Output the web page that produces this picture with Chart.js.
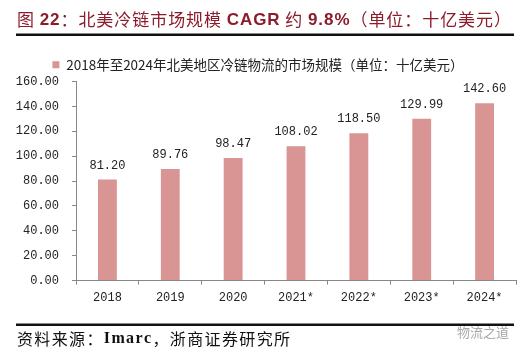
<!DOCTYPE html>
<html><head><meta charset="utf-8">
<script src="https://cdn.jsdelivr.net/npm/chart.js@4.4.0/dist/chart.umd.min.js"></script>
<style>
html,body{margin:0;padding:0;background:#fff;}
body{width:531px;height:357px;overflow:hidden;}
#box{position:absolute;left:0;top:0;width:531px;height:357px;}
</style></head>
<body>
<div id="box"><canvas id="c"></canvas></div>
<script>
const categories = ["2018","2019","2020","2021*","2022*","2023*","2024*"];
const marketSize = [81.20, 89.76, 98.47, 108.02, 118.50, 129.99, 142.60];
const seriesLabel = "2018年至2024年北美地区冷链物流的市场规模（单位：十亿美元）";
const yTicks = [0,20,40,60,80,100,120,140,160];
const titleParts = [["图 ",0],["22",1],["：北美冷链市场规模 ",0],["CAGR",1],[" 约 ",0],["9.8%",1],["（单位：十亿美元）",0]];
const sourceParts = [["资料来源：",0],["Imarc",1],["，浙商证券研究所",0]];
const watermark = "物流之道";

function drawSpaced(ctx, parts, x, y, target, fontN, fontB){
  const chars = [];
  parts.forEach(([t,b])=>{ for (const ch of t) chars.push([ch,b]); });
  let natural = 0;
  chars.forEach(([ch,b])=>{ ctx.font = b?fontB:fontN; natural += ctx.measureText(ch).width; });
  const extra = target ? (target - natural)/(chars.length-1) : 0;
  let cx = x;
  chars.forEach(([ch,b])=>{ ctx.font = b?fontB:fontN; ctx.fillText(ch, cx, y); cx += ctx.measureText(ch).width + extra; });
}

const frame = {
  id:'frame',
  afterDraw(chart){
    const ctx = chart.ctx;
    ctx.save();
    ctx.textBaseline = 'middle';
    ctx.textAlign = 'left';
    ctx.fillStyle = '#8c1c2c';
    drawSpaced(ctx, titleParts, 17, 20, 494, "17px 'Noto Sans CJK SC'", "bold 17px 'Liberation Sans', 'Noto Sans CJK SC'");
    ctx.fillStyle = '#111';
    ctx.fillRect(16, 33.5, 498, 2.5);
    ctx.fillRect(16, 323.5, 498, 2.5);
    drawSpaced(ctx, sourceParts, 17, 339, 273, "16px 'Noto Sans CJK SC'", "bold 16px 'Liberation Serif', serif");
    ctx.fillStyle = '#a8a8a8';
    ctx.font = "13px 'Noto Sans CJK SC'";
    ctx.fillText(watermark, 457, 332);
    ctx.restore();
  }
};

const tickFont = {family:"Liberation Mono, monospace", size:12};
const valueLabels = {
  id:'valueLabels',
  afterDatasetsDraw(chart){
    const ctx = chart.ctx;
    const meta = chart.getDatasetMeta(0);
    ctx.save();
    ctx.font = "12px 'Liberation Mono', monospace";
    ctx.fillStyle = '#222';
    ctx.textAlign = 'center';
    ctx.textBaseline = 'bottom';
    meta.data.forEach((el,i)=>{
      ctx.fillText(chart.data.datasets[0].data[i].toFixed(2), el.x, el.y - 8);
    });
    ctx.restore();
  }
};

new Chart(document.getElementById('c'), {
  type:'bar',
  data:{labels:categories, datasets:[{label:seriesLabel, data:marketSize, backgroundColor:'#d99594', borderWidth:0, barPercentage:0.3, categoryPercentage:1}]},
  options:{
    responsive:true, maintainAspectRatio:false, animation:false,
    layout:{padding:{left:0,right:15,top:46,bottom:46}},
    plugins:{
      legend:{display:true, position:'top', align:'center',
        labels:{boxWidth:7, boxHeight:7, padding:12, color:'#222', font:{family:"Noto Sans CJK SC", size:13.5}}},
      tooltip:{enabled:false}
    },
    scales:{
      x:{
        grid:{display:true, drawOnChartArea:false, drawTicks:true, tickLength:4, color:'#888', offset:true},
        border:{display:true, color:'#888'},
        ticks:{color:'#222', font:tickFont, padding:6, maxRotation:0}
      },
      y:{
        min:0, max:160,
        afterBuildTicks(s){ s.ticks = yTicks.map(v=>({value:v})); },
        afterFit(s){ s.width = 76; },
        grid:{display:true, drawOnChartArea:false, drawTicks:true, tickLength:4, color:'#888'},
        border:{display:true, color:'#888'},
        ticks:{color:'#222', font:tickFont, padding:13, callback:v=>Number(v).toFixed(2)}
      }
    }
  },
  plugins:[valueLabels, frame]
});
</script>
</body></html>
